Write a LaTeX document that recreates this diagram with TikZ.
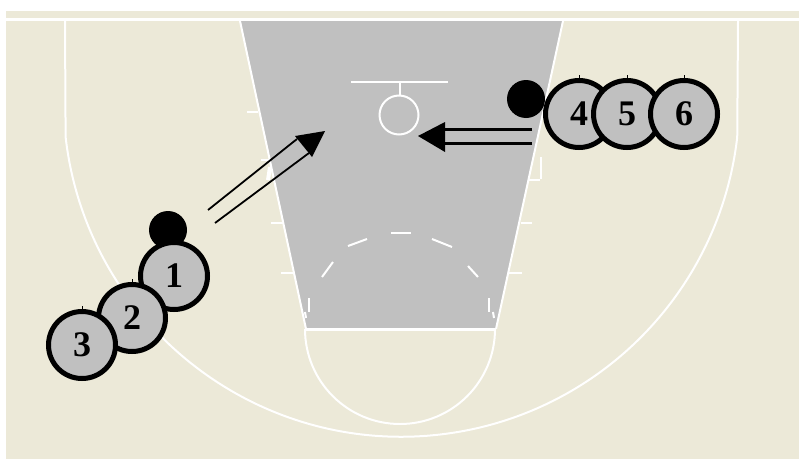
\documentclass[tikz,border=0pt]{standalone}
\usepackage{fontspec}
\setmainfont{Liberation Serif}
\tikzset{
	courtline/.style={white, line width=2pt},
	player/.style={circle, draw=black, fill=courtgray, line width=5pt, minimum size=67pt, inner sep=0pt, font=\fontsize{36}{36}\selectfont\bfseries},
	ball/.style={circle, fill=black, minimum size=38pt, inner sep=0pt},
	pass/.style={black, line width=1.8pt}
}
\definecolor{courtbg}{HTML}{ECE9D8}
\definecolor{courtgray}{HTML}{C0C0C0}
\begin{document}
\begin{tikzpicture}[x=1pt, y=1pt]
		\useasboundingbox (0, 0) rectangle (799, 459);
		\fill[courtbg]	(6, 0) rectangle (799, 448);
		\fill[courtgray]	(240, 438) to (563, 438) to (496, 130) to (306, 130);

		% court lines
		\draw[courtline, line width=3pt]	(6, 439.5) to (799, 439.5);
		\draw[courtline]	(65, 438) to (65.6, 322) arc[start angle=186.5, end angle=353.5, radius=338] to (738, 438);
		\draw[courtline]	(240, 438) to (306, 130);
		\draw[courtline]	(563, 438) to (496, 130);
		\draw[courtline, line width=3pt]	(305, 130) to (496, 130);
		\draw[courtline]	(305, 130) arc[start angle=180, end angle=360, radius=95];

		% dashes of the free throw circle
		\foreach \xa/\ya/\xb/\yb in {391/226/411/226, 348/213/367/220, 432/220/452/212, 322/182/333/197, 468/193/478/182, 309/161/309/147, 489/161/489/147, 305/147/306/141, 493/147/494/141} {
			\draw[courtline]	(\xa, \ya) to (\xb, \yb);
		}

		% lane marks
		\foreach \xa/\xb/\ya in {247/258/347, 261/269/299, 271/283/236, 281/293/186, 521/532/236, 509/522/186, 528/540/279} {
			\draw[courtline]	(\xa, \ya) to (\xb, \ya);
		}
		\draw[courtline, line width=4pt]	(270, 292) to (268, 279);
		\draw[courtline]	(541, 302) to (541, 280);

		% basket
		\draw[courtline]	(351, 377) to (448, 377);
		\draw[courtline]	(399.5, 377) to (399.5, 364);
		\node[circle, draw=white, line width=2pt, minimum size=39pt, inner sep=0pt] (rim) at (399, 344) {};

		% balls
		\node[ball] (ballA) at (168, 229) {};
		\node[ball] (ballB) at (526, 360) {};

		% players
		\node[player] (p1) at (174, 183) {1};
		\node[player] (p2) at (132, 141) {2};
		\node[player] (p3) at (82, 114) {3};
		\node[player] (p4) at (579, 345) {4};
		\node[player] (p5) at (627, 345) {5};
		\node[player] (p6) at (684, 345) {6};
		\foreach \p in {p2, p3, p4, p5, p6} {
			\draw[black, line width=1pt]	(\p.north) to ++(0, 3);
		}

		% passes
		\coordinate (leftA) at (208, 249);
		\coordinate (leftB) at (215, 236);
		\coordinate (leftC) at (297, 320);
		\coordinate (leftD) at (309, 306);
		\coordinate (leftTip) at (325, 328);
		\coordinate (leftE) at (295, 323);
		\coordinate (leftF) at (312, 302);
		\draw[pass]	(leftA) to (leftC);
		\draw[pass]	(leftB) to (leftD);
		\fill[black]	(leftTip) to (leftE) to (leftF);

		\coordinate (rightA) at (532, 330);
		\coordinate (rightB) at (532, 316);
		\coordinate (rightC) at (445, 330);
		\coordinate (rightD) at (445, 316);
		\coordinate (rightTip) at (418, 323);
		\coordinate (rightE) at (445, 337);
		\coordinate (rightF) at (445, 307);
		\draw[pass, line width=3pt]	(rightA) to (rightC);
		\draw[pass, line width=3pt]	(rightB) to (rightD);
		\fill[black]	(rightTip) to (rightE) to (rightF);
	\end{tikzpicture}
\end{document}
